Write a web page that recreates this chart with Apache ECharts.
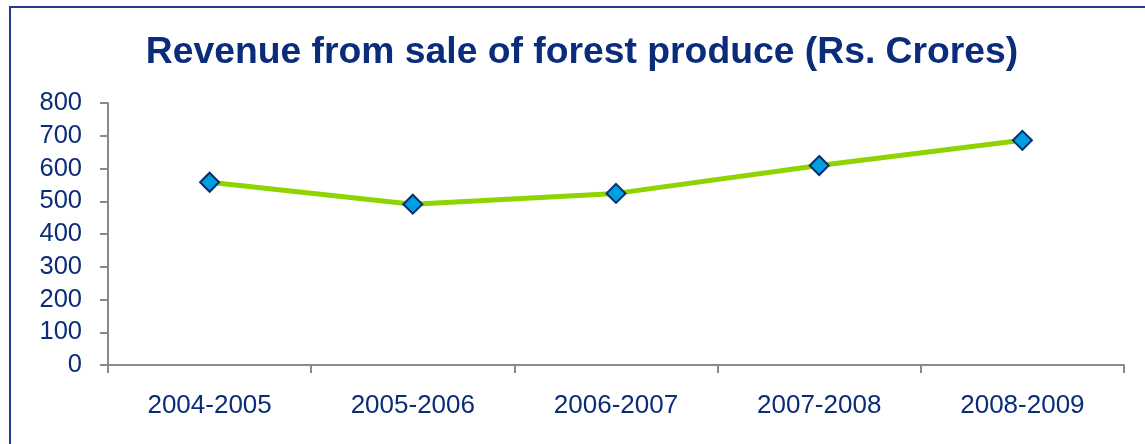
<!DOCTYPE html>
<html>
<head>
<meta charset="utf-8">
<script src="https://cdn.jsdelivr.net/npm/echarts@6/dist/echarts.min.js"></script>
<style>
  html, body { margin: 0; padding: 0; background: #ffffff; overflow: hidden; }
  #frame { position: absolute; left: 9px; top: 6px; width: 3000px; height: 3000px; border: 2px solid #1f3d8c; box-sizing: border-box; }
  #chart { position: absolute; left: 0; top: 0; width: 1145px; height: 444px; }
</style>
</head>
<body>
<div id="frame"></div>
<div id="chart"></div>
<script>
const titleText = 'Revenue from sale of forest produce (Rs. Crores)';
const categories = ['2004-2005', '2005-2006', '2006-2007', '2007-2008', '2008-2009'];
const revenue = [558, 491, 524, 609, 686];
const yMin = 0;
const yMax = 800;
const yStep = 100;

const navy = '#0b2c7a';
const axisGray = '#8a8a8a';

const chart = echarts.init(document.getElementById('chart'), null, { renderer: 'canvas' });
chart.setOption({
  backgroundColor: 'transparent',
  animation: false,
  title: {
    text: titleText,
    left: 582,
    textAlign: 'center',
    top: 34,
    padding: 0,
    textStyle: { fontFamily: 'Liberation Sans, Arial, sans-serif', fontSize: 37.3, fontWeight: 'bold', color: navy }
  },
  grid: { left: 108, right: 21, top: 103, bottom: 79, containLabel: false, outerBoundsMode: 'none' },
  xAxis: {
    type: 'category',
    data: categories,
    boundaryGap: true,
    axisLine: { show: true, lineStyle: { color: axisGray, width: 2 } },
    axisTick: { show: true, alignWithLabel: false, inside: false, length: 8, lineStyle: { color: axisGray, width: 2 } },
    axisLabel: { color: navy, fontFamily: 'Liberation Sans, Arial, sans-serif', fontSize: 26, margin: 28, interval: 0 },
    splitLine: { show: false }
  },
  yAxis: {
    type: 'value',
    min: yMin,
    max: yMax,
    interval: yStep,
    axisLine: { show: true, lineStyle: { color: axisGray, width: 2 } },
    axisTick: { show: true, inside: false, length: 8, lineStyle: { color: axisGray, width: 2 } },
    axisLabel: { color: navy, fontFamily: 'Liberation Sans, Arial, sans-serif', fontSize: 25.5, margin: 26, padding: [2, 0, 0, 0] },
    splitLine: { show: false }
  },
  series: [{
    type: 'line',
    data: revenue,
    symbol: 'diamond',
    symbolSize: 19,
    showAllSymbol: true,
    lineStyle: { color: '#8fd400', width: 5 },
    itemStyle: { color: '#009fdf', borderColor: '#0b2c6e', borderWidth: 2 },
    emphasis: { disabled: true }
  }]
});
</script>
</body>
</html>
